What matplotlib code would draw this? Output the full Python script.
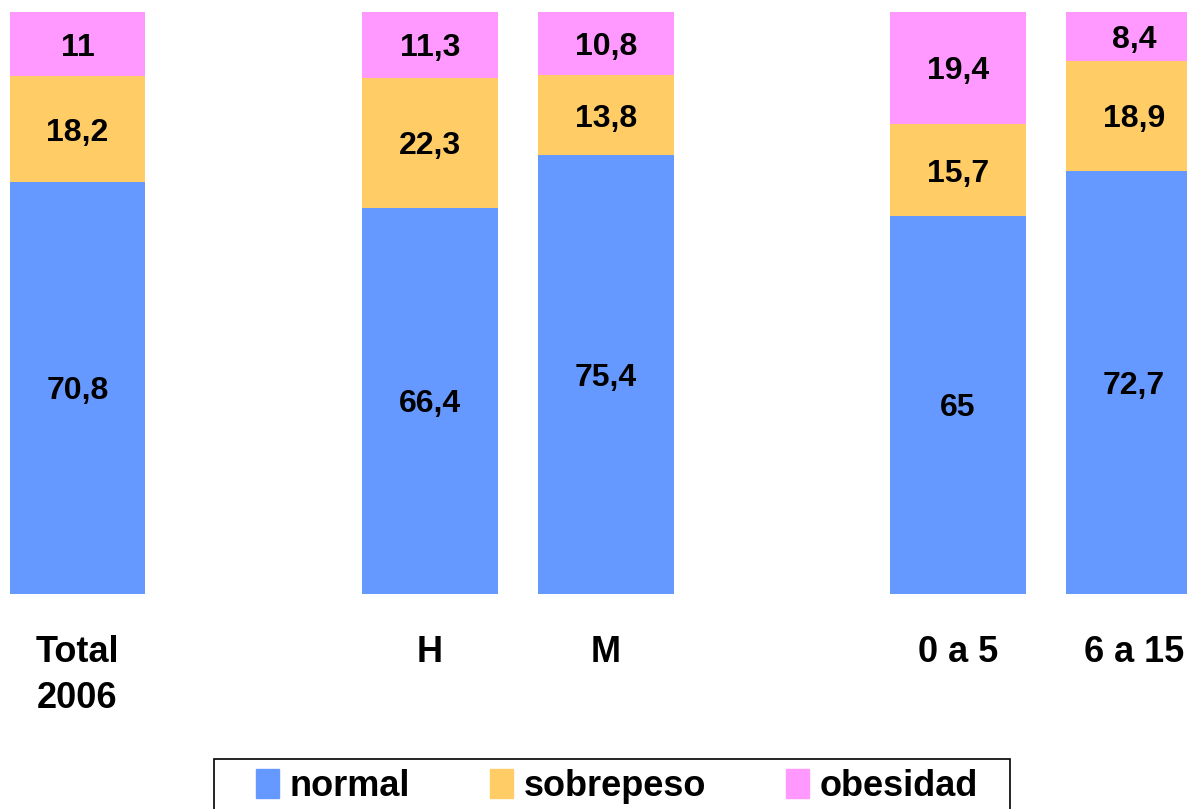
import matplotlib
matplotlib.use('Agg')
import matplotlib.pyplot as plt
from matplotlib.patches import Patch, Rectangle

plt.rcParams['font.family'] = ['Liberation Sans', 'DejaVu Sans']
plt.rcParams['font.weight'] = 'bold'

# data
categorias = ['Total\n2006', '', 'H', 'M', '', '0 a 5', '6 a 15']
normal = [70.8, None, 66.4, 75.4, None, 65, 72.7]
sobrepeso = [18.2, None, 22.3, 13.8, None, 15.7, 18.9]
obesidad = [11, None, 11.3, 10.8, None, 19.4, 8.4]
etiquetas_normal = ['70,8', '', '66,4', '75,4', '', '65', '72,7']
etiquetas_sobre = ['18,2', '', '22,3', '13,8', '', '15,7', '18,9']
etiquetas_obes = ['11', '', '11,3', '10,8', '', '19,4', '8,4']

c_normal = '#6699FF'
c_sobre = '#FFCC66'
c_obes = '#FF99FF'

fig = plt.figure(figsize=(11.87, 8.09), dpi=100)
ax = fig.add_axes([0, 0.266, 1, 0.719])

w = 0.77
off = 0.6  # labels sit a bit below the centre
for i in range(len(categorias)):
    if normal[i] is None:
        continue
    n, s, o = normal[i], sobrepeso[i], obesidad[i]
    ax.bar(i, n, w, color=c_normal)
    ax.bar(i, s, w, bottom=n, color=c_sobre)
    ax.bar(i, o, w, bottom=n + s, color=c_obes)
    ax.text(i, n / 2 - off, etiquetas_normal[i], ha='center', va='center', fontsize=23, fontweight='bold')
    ax.text(i, n + s / 2 - off, etiquetas_sobre[i], ha='center', va='center', fontsize=23, fontweight='bold')
    ax.text(i, n + s + o / 2 - off, etiquetas_obes[i], ha='center', va='center', fontsize=23, fontweight='bold')

ax.set_xlim(-0.44, 6.30)
ax.set_ylim(0, 100)
ax.set_yticks([])
ax.set_xticks(range(len(categorias)))
ax.set_xticklabels(categorias, fontsize=26, fontweight='bold', linespacing=1.4)
ax.tick_params(axis='x', length=0, pad=30)
for sp in ax.spines.values():
    sp.set_visible(False)

handles = [Patch(color=c_normal, label='normal'),
           Patch(color=c_sobre, label='sobrepeso'),
           Patch(color=c_obes, label='obesidad')]
leg = fig.legend(handles=handles, loc='center', bbox_to_anchor=(617 / 1187, 0.028),
                 ncol=3, frameon=False, borderaxespad=0, borderpad=0,
                 prop={'size': 26, 'weight': 'bold'}, handlelength=0.65, handleheight=0.85,
                 handletextpad=0.3, columnspacing=2.2)

# legend box (runs past the bottom edge like the original)
fig.patches.append(Rectangle((214 / 1187, -0.05), 796 / 1187, (809 - 759) / 809 + 0.05,
                             transform=fig.transFigure, fill=False, edgecolor='black', lw=1.2))

fig.savefig('out.png', dpi=100)
